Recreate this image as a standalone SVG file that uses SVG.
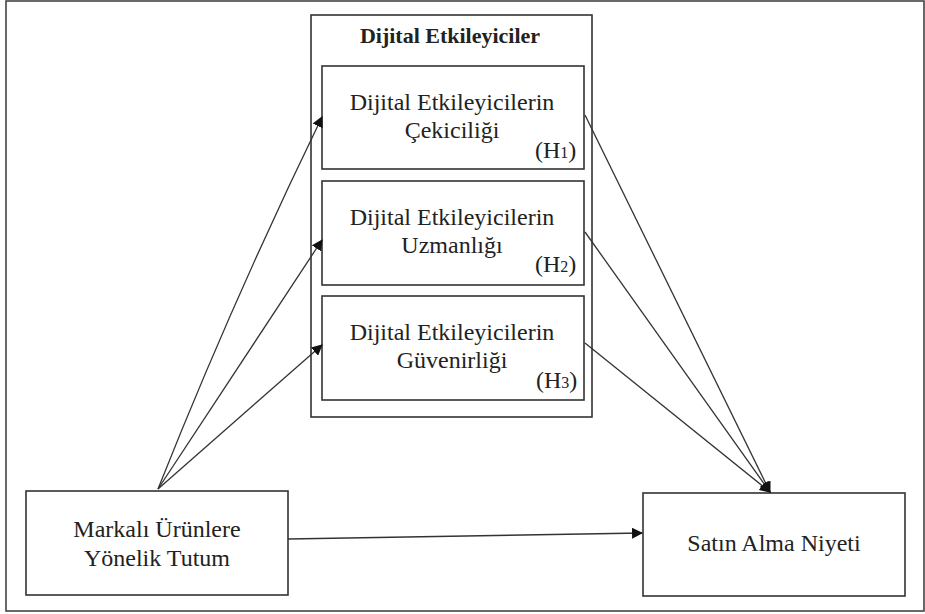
<svg xmlns="http://www.w3.org/2000/svg" width="925" height="614" viewBox="0 0 925 614">
<style>
.frame{fill:none;stroke:#444;stroke-width:1.6}
.box{fill:#fff;stroke:#333;stroke-width:1.6}
.t{font-family:"Liberation Serif","Times New Roman",serif;font-size:24px;fill:#222;text-anchor:middle}
.b{font-weight:bold;font-size:22px}
.h{font-family:"Liberation Serif","Times New Roman",serif;font-size:24px;fill:#222}
.c{fill:none;stroke:#333;stroke-width:1.3}
</style>
<defs>
<marker id="ah" markerUnits="userSpaceOnUse" markerWidth="11" markerHeight="11" refX="10" refY="5.5" orient="auto">
<path d="M0,0 L11,5.5 L0,11 z" fill="#111"/>
</marker>
</defs>
<rect x="0" y="0" width="925" height="614" fill="#fff"/>
<rect class="frame" x="6" y="1" width="918" height="610"/>
<g id="container">
<rect class="box" x="311" y="15" width="281" height="402"/>
<text class="t b" x="450" y="43">Dijital Etkileyiciler</text>
</g>
<g id="h1">
<rect class="box" x="322" y="66" width="262" height="103"/>
<text class="t" x="452" y="110">Dijital Etkileyicilerin</text>
<text class="t" x="452" y="138">Çekiciliği</text>
<text class="h" x="535" y="158">(H<tspan font-size="16">1</tspan>)</text>
</g>
<g id="h2">
<rect class="box" x="322" y="181" width="262" height="104"/>
<text class="t" x="452" y="225">Dijital Etkileyicilerin</text>
<text class="t" x="452" y="253">Uzmanlığı</text>
<text class="h" x="535" y="272">(H<tspan font-size="16">2</tspan>)</text>
</g>
<g id="h3">
<rect class="box" x="322" y="296" width="262" height="104"/>
<text class="t" x="452" y="340">Dijital Etkileyicilerin</text>
<text class="t" x="452" y="368">Güvenirliği</text>
<text class="h" x="536" y="388">(H<tspan font-size="16">3</tspan>)</text>
</g>
<g id="tutum">
<rect class="box" x="26" y="491" width="262" height="104"/>
<text class="t" x="157" y="537">Markalı Ürünlere</text>
<text class="t" x="157" y="566">Yönelik Tutum</text>
</g>
<g id="niyet">
<rect class="box" x="643" y="493" width="262" height="103"/>
<text class="t" x="774" y="551" font-size="22">Satın Alma Niyeti</text>
</g>
<g id="connectors">
<path class="c" d="M158,489 Q233,300 322,117" marker-end="url(#ah)"/>
<line class="c" x1="158" y1="489" x2="322" y2="240" marker-end="url(#ah)"/>
<line class="c" x1="158" y1="489" x2="322" y2="345" marker-end="url(#ah)"/>
<line class="c" x1="585" y1="115" x2="770" y2="492" marker-end="url(#ah)"/>
<line class="c" x1="585" y1="232" x2="770" y2="492" marker-end="url(#ah)"/>
<line class="c" x1="585" y1="343" x2="770" y2="492" marker-end="url(#ah)"/>
<line class="c" x1="288" y1="539" x2="642" y2="533" marker-end="url(#ah)"/>
</g>
</svg>
